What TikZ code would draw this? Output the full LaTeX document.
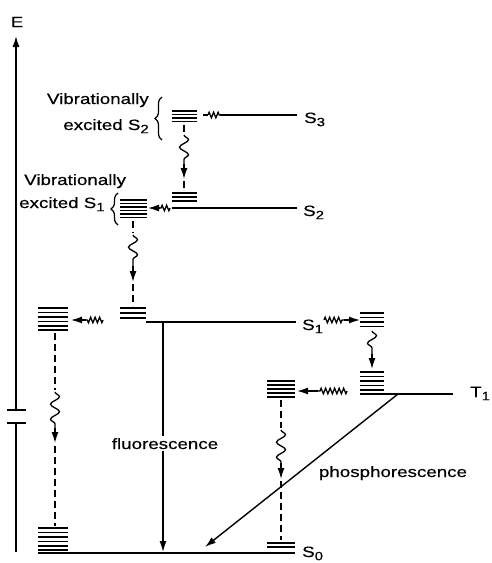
\documentclass[tikz,border=0pt]{standalone}
\usepackage{fontspec}
\setmainfont{Liberation Sans}[FakeStretch=1.25,FakeBold=0.4]
\usetikzlibrary{arrows.meta,decorations.pathmorphing,decorations.pathreplacing}
\newcommand\ix[1]{\raisebox{-0.4ex}{\fontsize{12}{12}\selectfont#1}}

\begin{document}
\begin{tikzpicture}[x=1pt,y=-1pt,
    level/.style={line width=2pt},
    vib/.style={line width=1.4pt},
    dsh/.style={line width=1.3pt,dash pattern=on 7pt off 4pt},
    wave/.style={line width=1.3pt,decorate,decoration={snake,amplitude=4.5pt,segment length=15pt}},
    zz/.style={line width=1.3pt,decorate,decoration={zigzag,amplitude=2.8pt,segment length=4.5pt}},
    tip/.style={-{Latex[length=11pt,width=7pt]}},
    lbl/.style={font=\fontsize{15}{18}\selectfont,inner sep=0pt},
    brc/.style={line width=1.2pt,decorate,decoration={brace,amplitude=7pt}}]
        \useasboundingbox (0,0) rectangle (491,563);

        % Eixo de energia
        \node[lbl] (E) at (17,22) {E};
        \coordinate (axtop) at (16,36);
        \draw[line width=1.4pt] (16,552) -- (16,423);
        \draw[line width=1.4pt] (7,423) -- (26,423);
        \draw[line width=1.4pt] (7,410) -- (26,410);
        \draw[line width=1.4pt,tip] (16,410) -- (axtop);

        % S3
        \draw[vib] (203,115) -- (208,115);
        \draw[zz] (208,115) -- (220,115);
        \draw[level] (220,115) -- (297,115);
        \node[lbl,anchor=base west] (S3) at (304,123) {S\ix{3}};

        % S2 vibracional
        \foreach \y in {111,114.5,118,121.5}
            \draw[vib] (172,\y) -- (197,\y);
        \draw[brc] (162,140) -- (162,97);
        \node[lbl,anchor=base east] (vib2a) at (149,104) {Vibrationally};
        \node[lbl,anchor=base east] (vib2b) at (149,130) {excited S\ix{2}};

        % S2 -> S2
        \draw[dsh] (184,125) -- (184,134);
        \draw[wave] (184,135) -- (184,164);
        \draw[vib,tip] (184,164) -- (184,179);
        \draw[dsh] (184,181) -- (184,191);

        % S2
        \foreach \y in {193,197,201}
            \draw[vib] (172,\y) -- (197,\y);
        \draw[level] (172,208) -- (297,208);
        \node[lbl,anchor=base west] (S2) at (303,216) {S\ix{2}};

        % S1 vibracional
        \foreach \y in {200,203.5,207,210.5,214,217.5}
            \draw[vib] (120,\y) -- (147,\y);
        \draw[brc] (118,225) -- (118,193);
        \node[lbl,anchor=base west] (vib1a) at (24,185) {Vibrationally};
        \node[lbl,anchor=base west] (vib1b) at (19,208) {excited S\ix{1}};
        \draw[zz] (170,208) -- (160,208);
        \draw[vib,tip] (160,208) -- (148,208);

        % S1 vib -> S1
        \draw[dsh] (133,221) -- (133,233);
        \draw[wave] (133,235) -- (133,266);
        \draw[vib,tip] (133,266) -- (133,282);
        \draw[dsh] (133,284) -- (133,306);

        % S1
        \foreach \y in {308,313,318}
            \draw[vib] (120,\y) -- (146,\y);
        \draw[level] (146,322) -- (296,322);
        \node[lbl,anchor=base west] (S1) at (302,330) {S\ix{1}};

        % Conversao interna a esquerda
        \foreach \y in {308,312.5,317,321.5,326,330}
            \draw[vib] (38,\y) -- (68,\y);
        \draw[zz] (103,320) -- (86,320);
        \draw[vib,tip] (86,320) -- (71,320);
        \draw[dsh] (55,333) -- (55,390);
        \draw[wave] (55,392) -- (55,428);
        \draw[vib,tip] (55,428) -- (55,443);
        \draw[dsh] (55,446) -- (55,526);

        % S0
        \foreach \y in {528,532.5,537,541.5,546,550}
            \draw[vib] (38,\y) -- (68,\y);
        \draw[level] (38,553) -- (295,553);
        \foreach \y in {543,547}
            \draw[vib] (267,\y) -- (295,\y);
        \node[lbl,anchor=base west] (S0) at (302,557) {S\ix{0}};

        % Fluorescencia
        \draw[vib,tip] (163,322) -- (163,552);
        \node[lbl,anchor=base,fill=white,inner sep=2pt] (fl) at (165,449) {fluorescence};

        % Cruzamento para T1
        \draw[zz] (324,320) -- (344,320);
        \draw[vib,tip] (344,320) -- (360,320);
        \foreach \y in {313,317.5,322,326.5}
            \draw[vib] (360,\y) -- (384,\y);
        \draw[wave] (372,331) -- (372,354);
        \draw[vib,tip] (372,354) -- (372,369);

        % T1
        \foreach \y in {372,376.5,381,385.5,390}
            \draw[vib] (360,\y) -- (384,\y);
        \draw[level] (360,394) -- (453,394);
        \node[lbl,anchor=base west] (T1) at (470,397) {T\ix{1}};

        % T1 -> S0
        \foreach \y in {381,385,389,393,397}
            \draw[vib] (267,\y) -- (295,\y);
        \draw[zz] (347,391) -- (318,391);
        \draw[vib,tip] (318,391) -- (297,391);
        \draw[dsh] (281,400) -- (281,428);
        \draw[wave] (281,430) -- (281,463);
        \draw[vib,tip] (281,463) -- (281,479);
        \draw[dsh] (281,481) -- (281,540);

        % Fosforescencia
        \draw[vib,tip] (398,394) -- (205,547);
        \node[lbl,anchor=base] (ph) at (393,477) {phosphorescence};
    \end{tikzpicture}
\end{document}
